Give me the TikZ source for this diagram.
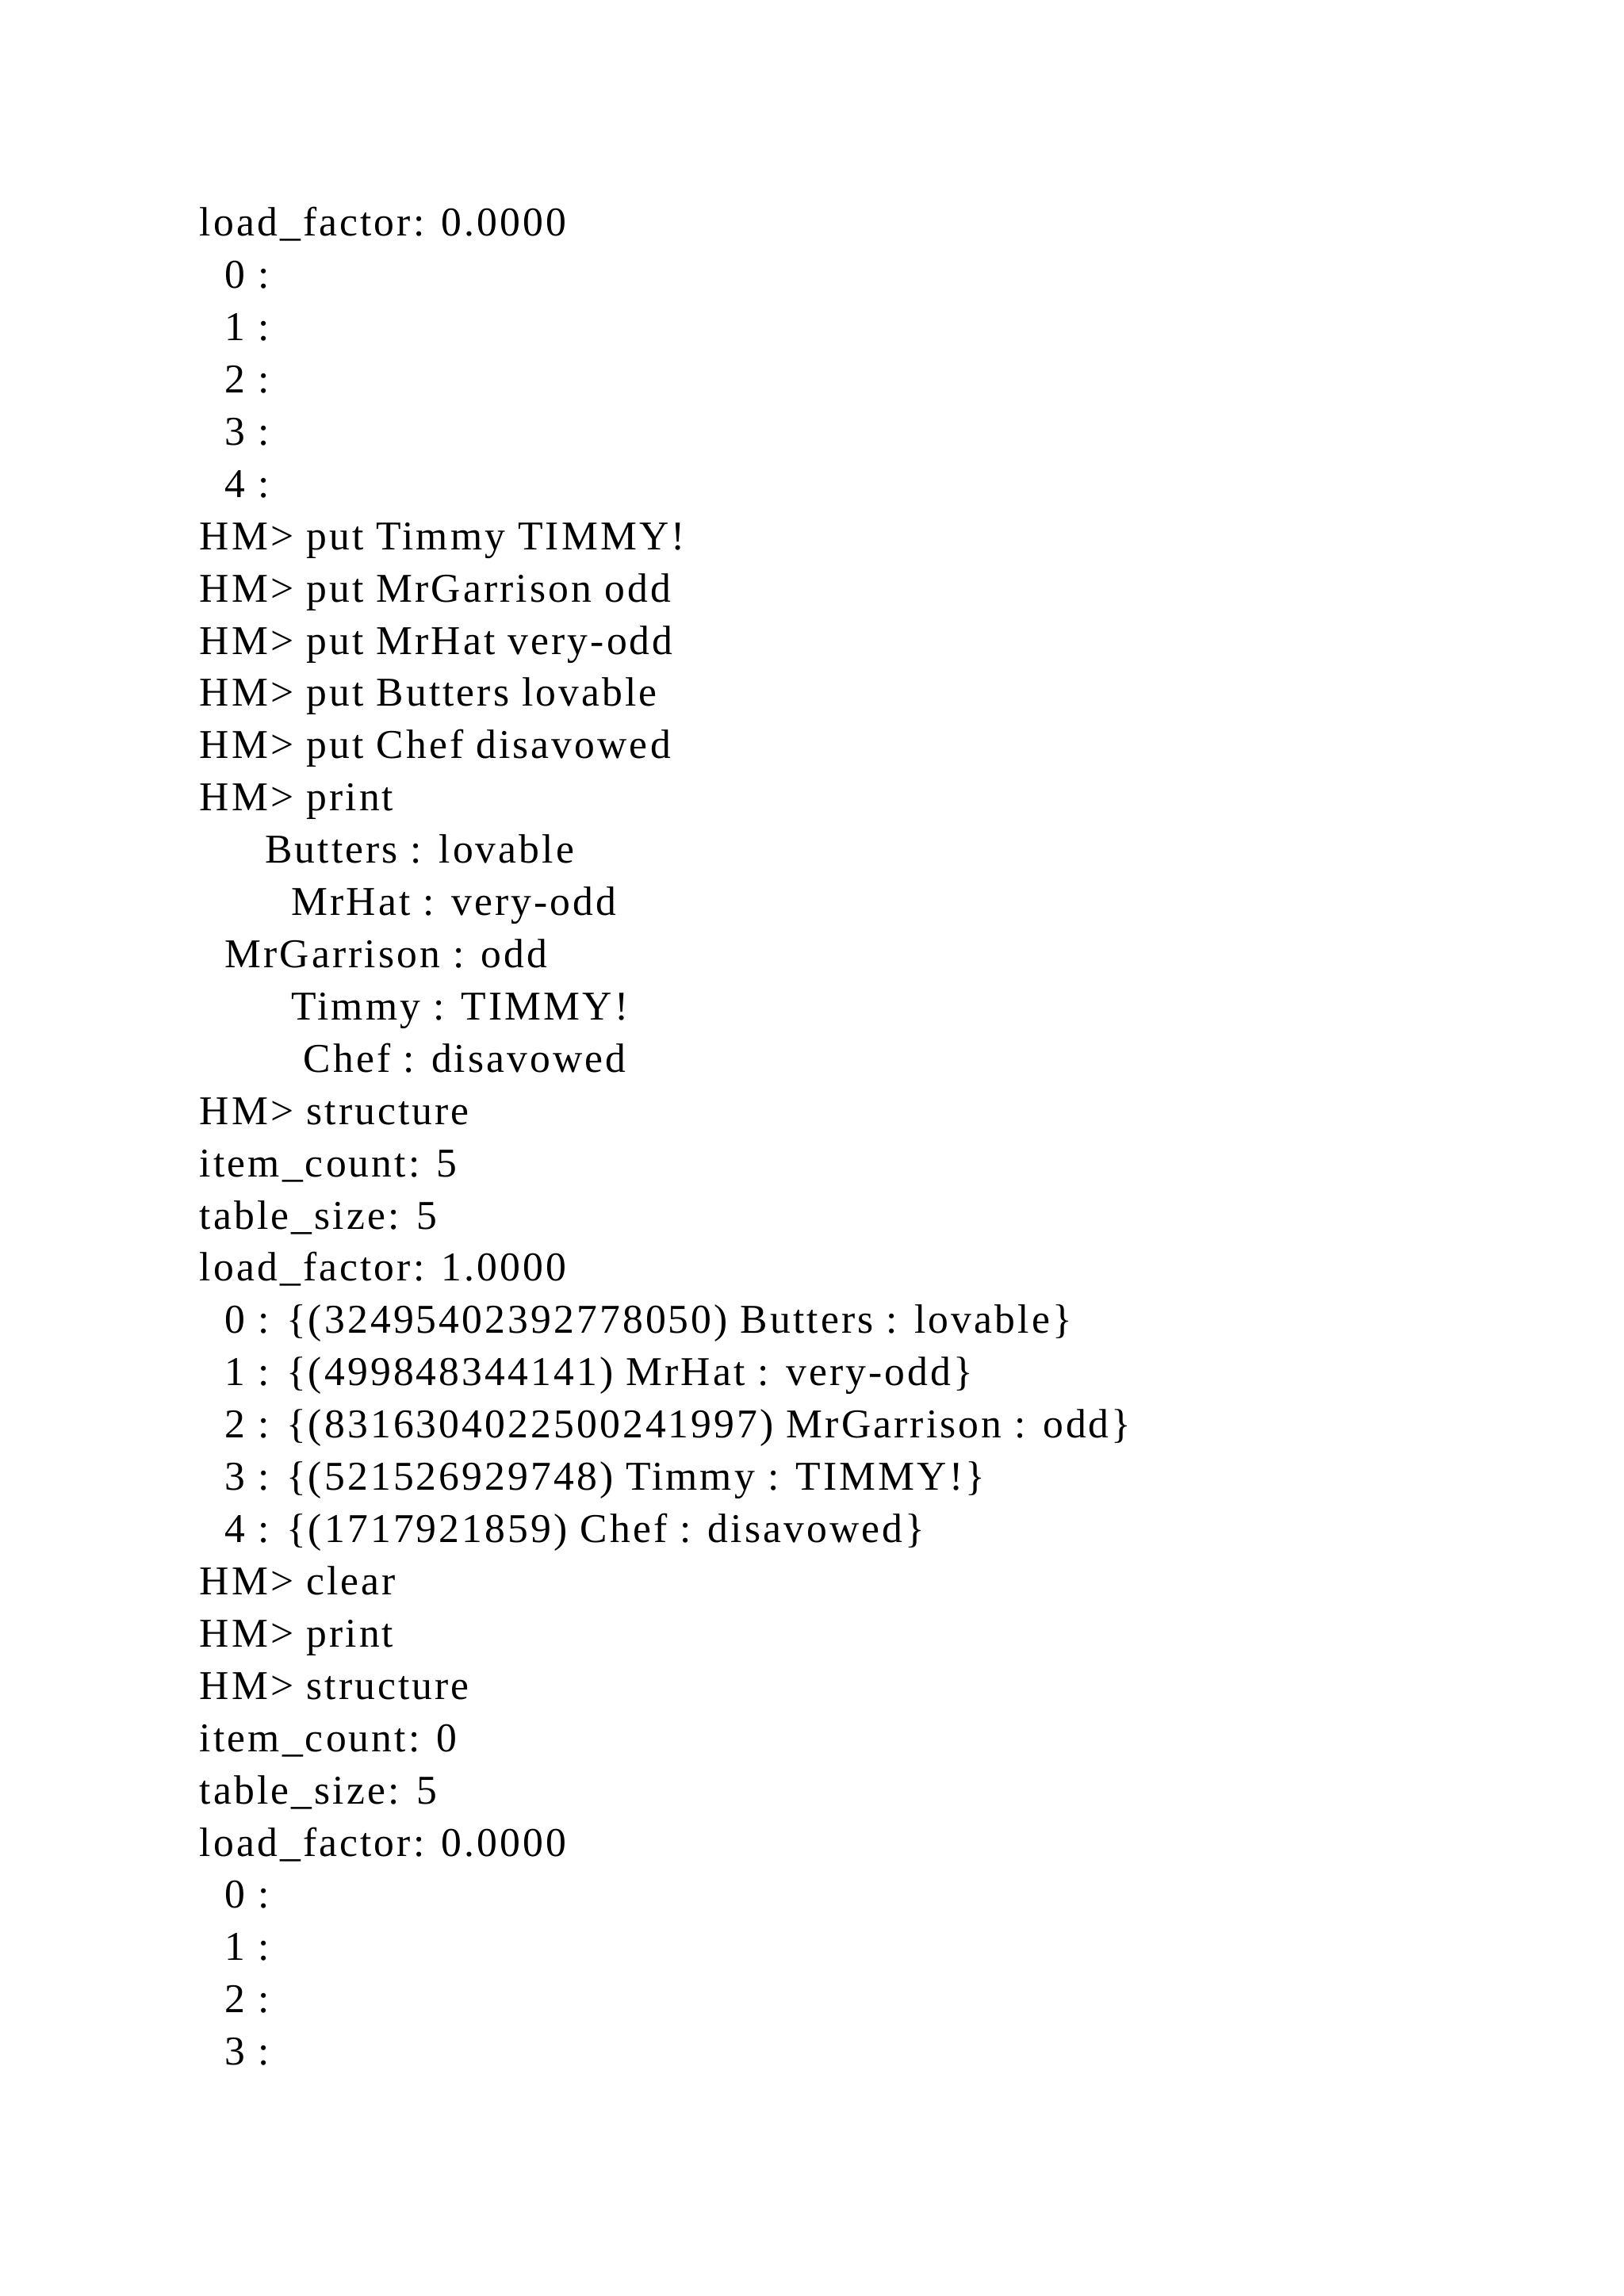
\documentclass[tikz,border=0pt]{standalone}
\usepackage{fontspec}
\setmainfont[LetterSpace=6]{Liberation Serif}
\begin{document}
\begin{tikzpicture}[x=1pt,y=1pt,txt/.style={anchor=base west,inner sep=0pt,font=\fontsize{15}{18}\selectfont}]
\useasboundingbox[fill=white] (0,0) rectangle (595,-841.4);
\def\L#1#2#3{\node[txt] (l#1) at (#2,{-86.5-19.15*#1}) {#3};}
\L{0}{73}{load\_factor: 0.0000}
\L{1}{82.2}{0 :}
\L{2}{82.2}{1 :}
\L{3}{82.2}{2 :}
\L{4}{82.2}{3 :}
\L{5}{82.2}{4 :}
\L{6}{73}{HM> put Timmy TIMMY!}
\L{7}{73}{HM> put MrGarrison odd}
\L{8}{73}{HM> put MrHat very-odd}
\L{9}{73}{HM> put Butters lovable}
\L{10}{73}{HM> put Chef disavowed}
\L{11}{73}{HM> print}
\L{12}{96.9}{Butters : lovable}
\L{13}{106.6}{MrHat : very-odd}
\L{14}{82.2}{MrGarrison : odd}
\L{15}{106.6}{Timmy : TIMMY!}
\L{16}{111}{Chef : disavowed}
\L{17}{73}{HM> structure}
\L{18}{73}{item\_count: 5}
\L{19}{73}{table\_size: 5}
\L{20}{73}{load\_factor: 1.0000}
\L{21}{82.2}{0 : \{(32495402392778050) Butters : lovable\}}
\L{22}{82.2}{1 : \{(499848344141) MrHat : very-odd\}}
\L{23}{82.2}{2 : \{(8316304022500241997) MrGarrison : odd\}}
\L{24}{82.2}{3 : \{(521526929748) Timmy : TIMMY!\}}
\L{25}{82.2}{4 : \{(1717921859) Chef : disavowed\}}
\L{26}{73}{HM> clear}
\L{27}{73}{HM> print}
\L{28}{73}{HM> structure}
\L{29}{73}{item\_count: 0}
\L{30}{73}{table\_size: 5}
\L{31}{73}{load\_factor: 0.0000}
\L{32}{82.2}{0 :}
\L{33}{82.2}{1 :}
\L{34}{82.2}{2 :}
\L{35}{82.2}{3 :}
\end{tikzpicture}
\end{document}
